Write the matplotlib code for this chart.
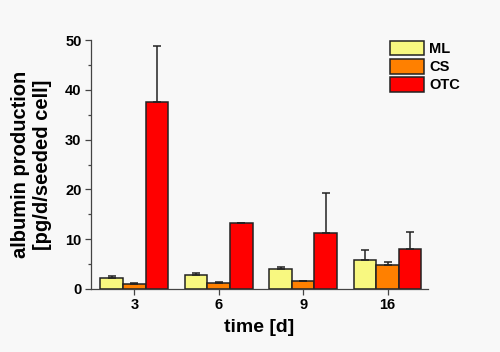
import numpy as np
import matplotlib.pyplot as plt

plt.rcParams["font.family"] = ["Liberation Sans", "DejaVu Sans"]
plt.rcParams["font.weight"] = "bold"

days = ["3", "6", "9", "16"]
series = ["ML", "CS", "OTC"]
ml = [2.25, 2.85, 4.0, 5.75]
ml_err = [0.3, 0.3, 0.4, 2.05]
cs = [1.05, 1.25, 1.6, 4.85]
cs_err = [0.1, 0.1, 0.1, 0.6]
otc = [37.6, 13.2, 11.3, 8.0]
otc_err = [11.2, 0.15, 8.0, 3.35]
colors = ["#f8f880", "#ff8000", "#ff0000"]

bg = "#f8f8f8"
fig = plt.figure(figsize=(5, 3.52), dpi=100, facecolor=bg)
ax = fig.add_axes([0.181, 0.179, 0.675, 0.707], facecolor=bg)

x = np.arange(len(days))
w = 0.268
for i, (vals, errs) in enumerate([(ml, ml_err), (cs, cs_err), (otc, otc_err)]):
    ax.bar(x + (i - 1) * w, vals, width=w, color=colors[i], edgecolor="#222222",
           linewidth=1.1, label=series[i], zorder=2)
    ax.errorbar(x + (i - 1) * w, vals, yerr=[np.zeros(len(errs)), errs], fmt="none",
                ecolor="#222222", elinewidth=1.1, capsize=3, capthick=1.1, zorder=3)

ax.set_xlim(-0.52, 3.48)
ax.set_ylim(0, 50)
ax.set_xticks(x)
ax.set_xticklabels(days)
ax.set_yticks(np.arange(0, 51, 10))
ax.set_yticks(np.arange(5, 50, 10), minor=True)
for s in ["top", "right"]:
    ax.spines[s].set_visible(False)
for s in ["left", "bottom"]:
    ax.spines[s].set_color("#444444")
    ax.spines[s].set_linewidth(0.9)
ax.tick_params(axis="both", which="major", labelsize=10.5, length=4, color="#444444",
               width=0.9, pad=2.5)
ax.tick_params(axis="y", which="minor", length=2.5, color="#444444", width=0.9)

ax.set_xlabel("time [d]", fontsize=14, fontweight="bold", labelpad=5)
ax.set_ylabel("albumin production\n[pg/d/seeded cell]", fontsize=14.5,
              fontweight="bold", labelpad=9, linespacing=1.2)

leg = ax.legend(loc="upper left", bbox_to_anchor=(0.87, 1.02), frameon=False,
                fontsize=10.5, handlelength=2.3, handleheight=1.15, labelspacing=0.2,
                handletextpad=0.4, borderaxespad=0.0)

fig.savefig("out.png", dpi=100, facecolor=bg)
